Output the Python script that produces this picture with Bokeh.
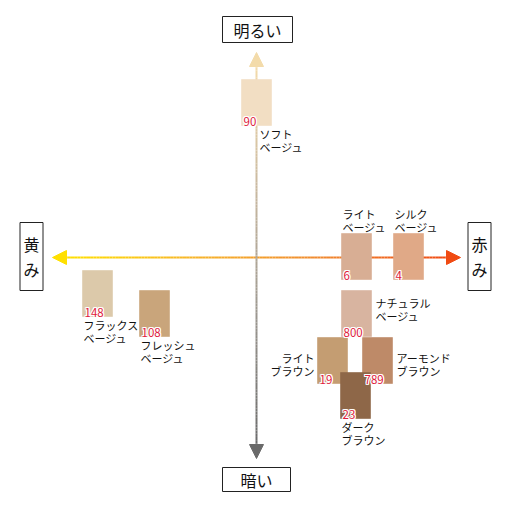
import numpy as np
from bokeh.plotting import figure
from bokeh.models import Range1d, ColumnDataSource, Arrow, NormalHead
from bokeh.core.properties import value
from bokeh.embed import file_html
from bokeh.resources import INLINE

# ---- data ----
codes = ["90", "6", "4", "800", "19", "789", "23", "148", "108"]
names = ["ソフト\nベージュ", "ライト\nベージュ", "シルク\nベージュ", "ナチュラル\nベージュ",
         "ライト\nブラウン", "アーモンド\nブラウン", "ダーク\nブラウン",
         "フラックス\nベージュ", "フレッシュ\nベージュ"]
redness = [0, 50, 76, 50, 38, 60.5, 49.5, -79.5, -51]          # yellow(-) .. red(+)
brightness = [77, 0, 0, -28.5, -52, -52, -69.5, -18.5, -28.5]  # dark(-) .. bright(+)
swatch_colors = ["#F2DEC3", "#D8AE94", "#E0A987", "#D8B4A0", "#C49D72",
                 "#BE8A68", "#8E6748", "#DCC9AA", "#C9A57B"]
placement = ["below_axis", "above", "above", "right", "left", "right_low", "below", "below", "below"]
axis_labels = ["明るい", "暗い", "黄\nみ", "赤\nみ"]

FONT = value("Noto Sans CJK JP")
SW, SH = 15.0, 23.0   # swatch size in chart units (1 unit = 2px)

p = figure(width=496, height=496, output_backend="svg", toolbar_location=None,
           x_range=Range1d(-128, 120), y_range=Range1d(-120, 128),
           min_border=0, outline_line_color=None)
p.axis.visible = False
p.grid.visible = False
p.background_fill_color = "white"

# ---- gradient arrows ----
def lerp_colors(stops, n):
    stops = [np.array([int(c[i:i + 2], 16) for i in (1, 3, 5)], float) for c in stops]
    out = []
    for t in np.linspace(0, 1, n):
        seg = min(int(t * (len(stops) - 1)), len(stops) - 2)
        lt = t * (len(stops) - 1) - seg
        c = stops[seg] * (1 - lt) + stops[seg + 1] * lt
        out.append("#%02x%02x%02x" % tuple(int(round(v)) for v in c))
    return out

N = 120
# horizontal: yellow (left) -> orange-red (right)
hx = np.linspace(-96, 96, N + 1)
hcol = lerp_colors(["#FFE000", "#F7B52A", "#F08A30", "#F04A12"], N)
p.segment(x0=hx[:-1], y0=[-0.5] * N, x1=hx[1:], y1=[-0.5] * N, line_color=hcol, line_width=2)
# vertical: light beige (top) -> dark grey (bottom)
vy = np.linspace(-95, 96, N + 1)
vcol = lerp_colors(["#6A6A6A", "#9A968F", "#C8B8A0", "#F3DBAA"], N)
p.segment(x0=[0] * N, y0=vy[:-1], x1=[0] * N, y1=vy[1:], line_color=vcol, line_width=2)

for (xs, ys, xe, ye, col) in [(0, 94, 0, 102, "#F3DBAA"), (0, -93, 0, -101, "#6A6A6A"),
                              (-94, -0.5, -102, -0.5, "#FFE000"), (94, -0.5, 102, -0.5, "#F04A12")]:
    p.add_layout(Arrow(x_start=xs, y_start=ys, x_end=xe, y_end=ye, line_alpha=0,
                       end=NormalHead(size=14, fill_color=col, line_color=col, line_width=1)))

# ---- axis label boxes ----
box_x = [0.5, 0, -112.5, 111.5]
box_y = [113.5, -111.5, 0, 0]
box_w = [70, 68, 23, 23]
box_h = [26, 24, 68, 68]
p.rect(x=box_x, y=box_y, width=box_w, height=box_h, width_units="screen", height_units="screen",
       fill_color="white", line_color="#222222", line_width=1)
p.text(x=box_x, y=box_y, text=axis_labels, text_font=FONT, text_font_size="16px",
       text_align="center", text_baseline="middle", text_color="#111111", text_line_height=1.08)

# ---- swatches ----
src = ColumnDataSource(dict(x=redness, y=brightness, c=swatch_colors, code=codes))
p.rect(x="x", y="y", width=SW, height=SH, fill_color="c", line_color="c",
       line_alpha=0.6, source=src)

# code numbers: bottom-left inside each swatch, red with a white halo
nx = [x - SW / 2 for x in redness]
ny = [y - SH / 2 for y in brightness]
for dx, dy in [(-1, 0), (1, 0), (0, -1), (0, 1), (-1, -1), (1, 1), (-1, 1), (1, -1)]:
    p.text(x=nx, y=ny, text=codes, x_offset=2 + dx, y_offset=dy, text_font=FONT,
           text_font_size="11.5px", text_align="left", text_baseline="bottom",
           text_color="white")
p.text(x=nx, y=ny, text=codes, x_offset=2, y_offset=0, text_font=FONT, text_font_size="11.5px",
       text_align="left", text_baseline="bottom", text_color="#E0203C")

# name labels
lx, ly, la, lb, xo, yo = [], [], [], [], [], []
for x, y, pl in zip(redness, brightness, placement):
    if pl == "below_axis":
        lx.append(x); ly.append(y - SH / 2); la.append("left"); lb.append("top"); xo.append(3); yo.append(0)
    elif pl == "above":
        lx.append(x - SW / 2); ly.append(y + SH / 2); la.append("left"); lb.append("bottom"); xo.append(1); yo.append(2)
    elif pl == "right":
        lx.append(x + SW / 2); ly.append(y + SH / 2); la.append("left"); lb.append("top"); xo.append(4); yo.append(4)
    elif pl == "right_low":
        lx.append(x + SW / 2); ly.append(y + SH / 2); la.append("left"); lb.append("top"); xo.append(4); yo.append(12)
    elif pl == "left":
        lx.append(x - SW / 2); ly.append(y + SH / 2); la.append("right"); lb.append("top"); xo.append(-3); yo.append(12)
    else:
        lx.append(x - SW / 2); ly.append(y - SH / 2); la.append("left"); lb.append("top"); xo.append(1); yo.append(0)
p.text(x=lx, y=ly, text=names, x_offset=xo, y_offset=yo, text_align=la, text_baseline=lb,
       text_font=FONT, text_font_size="11px", text_color="#111111", text_line_height=0.82)

open("out.html", "w").write(file_html(p, INLINE))
